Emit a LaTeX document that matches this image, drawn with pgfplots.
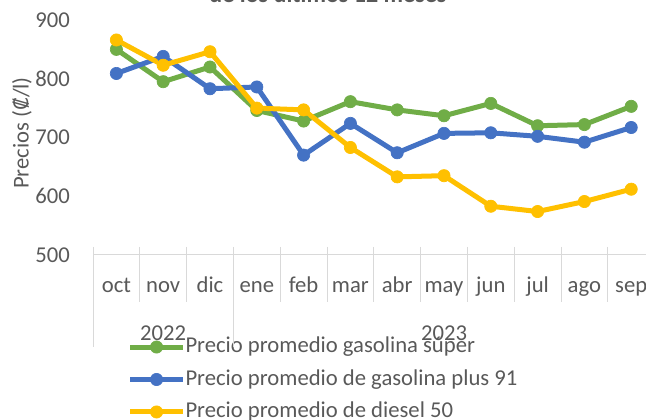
\documentclass[border=0pt]{standalone}
\usepackage{fontspec}
\setmainfont{Carlito}
\newfontfamily\dejavu{DejaVu Sans}
\usepackage{pgfplots}
\pgfplotsset{compat=1.18}

\definecolor{cgreen}{HTML}{70AD47}
\definecolor{cblue}{HTML}{4472C4}
\definecolor{cyellow}{HTML}{FFC000}
\definecolor{ctext}{HTML}{595959}
\definecolor{caxis}{HTML}{D9D9D9}

\pgfplotsset{
  serie/.style={line width=3.75pt, line join=round, mark=*, mark size=4.6pt,
    mark options={solid, fill=#1, draw=#1, line width=0.5pt}, color=#1},
}

\begin{document}
\begin{tikzpicture}[x=0.75pt,y=0.75pt]
\begin{axis}[
  at={(69.75pt,123.75pt)}, anchor=south west,
  scale only axis, width=421.2pt, height=176.25pt,
  xmin=-0.5, xmax=11.5, ymin=500, ymax=900,
  clip=false,
  axis line style={draw=none},
  major tick length=0pt,
  ytick={500,600,700,800,900},
  yticklabel style={font=\fontsize{17}{20}\selectfont, text=ctext, anchor=east, inner sep=0pt, xshift=-17.25pt},
  xtick={0,...,11},
  xticklabels={oct,nov,dic,ene,feb,mar,abr,may,jun,jul,ago,sep},
  xticklabel style={font=\fontsize{17}{20}\selectfont, text=ctext, anchor=base, inner sep=0pt, yshift=-28.1pt},
  /pgf/number format/assume math mode=true,
  legend cell align=left,
  legend image code/.code={\draw[mark repeat=2,mark phase=2,#1] plot coordinates {(0pt,0pt) (19.9pt,0pt) (39.75pt,0pt)};},
  legend style={at={(0.061,-0.343)}, anchor=north west, draw=none, fill=none,
    inner sep=0pt, row sep=7.6pt, column sep=0pt,
    nodes={inner sep=0pt, text height=12.75pt, text depth=4pt, font=\fontsize{17}{20}\selectfont, text=ctext}},
]
\addplot[serie=cgreen] coordinates {
  (0,850) (1,795) (2,820) (3,746) (4,728) (5,761) (6,747) (7,737) (8,758) (9,720) (10,722) (11,753)};
\addlegendentry{Precio promedio gasolina súper}
\addplot[serie=cblue] coordinates {
  (0,809) (1,838) (2,783) (3,786) (4,670) (5,724) (6,674) (7,707) (8,708) (9,702) (10,692) (11,717)};
\addlegendentry{Precio promedio de gasolina plus 91}
\addplot[serie=cyellow] coordinates {
  (0,866) (1,823) (2,846) (3,750) (4,747) (5,683) (6,633) (7,635) (8,583) (9,574) (10,591) (11,612)};
\addlegendentry{Precio promedio de diesel 50}
\end{axis}

% category axis with two levels
\draw[caxis, line width=0.75pt] (93,165) -- (660,165);
\foreach \i in {0,...,12} \draw[caxis, line width=0.75pt] ({93+46.8*\i},173) -- ({93+46.8*\i},118);
\foreach \i in {0,3,12} \draw[caxis, line width=0.75pt] ({93+46.8*\i},118) -- ({93+46.8*\i},73);
\node[text=ctext, font=\fontsize{17}{20}\selectfont] at (163,87) {2022};
\node[text=ctext, font=\fontsize{17}{20}\selectfont] at (444,87) {2023};

\node[rotate=90, text=ctext, font=\fontsize{17}{20}\selectfont] at (22,287) {Precios ({\dejavu\fontsize{15}{18}\selectfont ₡}/l)};
\node[anchor=base, text=ctext, font=\bfseries\fontsize{18}{21}\selectfont] at (328,417.5) {de los últimos 12 meses};

\pgfresetboundingbox
\path (0,0) rectangle (646,420);
\end{tikzpicture}
\end{document}
